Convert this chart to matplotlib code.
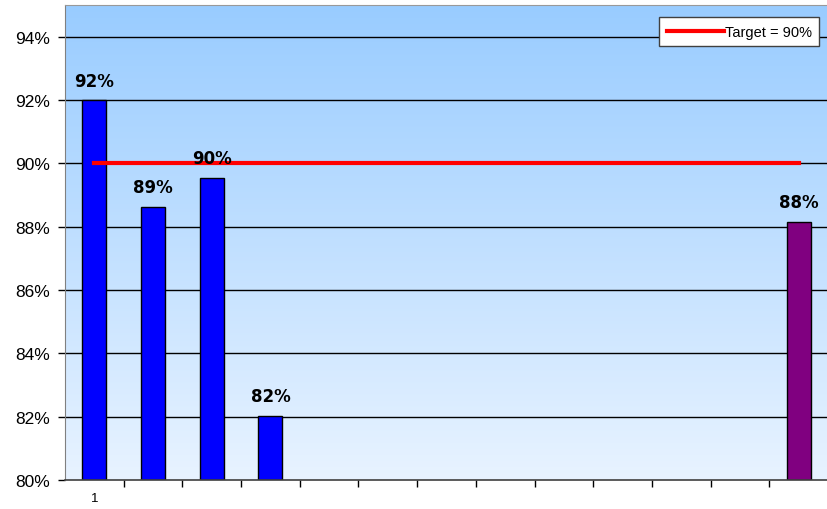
import numpy as np
import matplotlib
matplotlib.use("Agg")
import matplotlib.pyplot as plt
from matplotlib.colors import LinearSegmentedColormap

# Monthly rate values (category positions 1..13, gaps left empty)
categories = list(range(1, 14))
values = [92.0, 88.63, 89.55, 82.03, None, None, None, None, None, None, None, None, 88.16]
value_labels = ["92%", "89%", "90%", "82%", "", "", "", "", "", "", "", "", "88%"]
bar_colors = ["#0000FF"] * 12 + ["#800080"]
target = 90.0
target_label = "Target = 90%"
y_ticks = [80, 82, 84, 86, 88, 90, 92, 94]
y_tick_labels = ["80%", "82%", "84%", "86%", "88%", "90%", "92%", "94%"]
x_tick_labels = ["1"] + [""] * 12

plt.rcParams["font.family"] = ["Liberation Sans", "DejaVu Sans"]

fig = plt.figure(figsize=(8.27, 5.10), dpi=100)
ax = fig.add_axes([65 / 827, 29 / 510, 763 / 827, 475 / 510])

x = np.arange(len(categories))
ax.set_xlim(-0.5, len(categories) - 0.5)
ax.set_ylim(80, 95)

# vertical gradient background
grad = LinearSegmentedColormap.from_list("bg", ["#E8F3FF", "#99CCFF"])
ax.imshow(np.linspace(0, 1, 256).reshape(-1, 1), cmap=grad, aspect="auto",
          extent=(-0.5, len(categories) - 0.5, 80, 95), origin="lower", zorder=0)

for yt in y_ticks[1:]:
    ax.axhline(yt, color="black", lw=1.0, zorder=1)

for xi, v, lab, c in zip(x, values, value_labels, bar_colors):
    if v is None:
        continue
    ax.bar(xi, v - 80, bottom=80, width=0.41, color=c, edgecolor="black",
           linewidth=1.0, zorder=2)
    ax.text(xi, v + 0.33, lab, ha="center", va="bottom", fontsize=12,
            fontweight="bold", family="DejaVu Sans", zorder=4)

line, = ax.plot([x[0], x[-1]], [target, target], color="#FF0000", lw=3,
                zorder=3, label=target_label)

ax.set_yticks(y_ticks)
ax.set_yticklabels(y_tick_labels, fontsize=12.5)
ax.set_xticks(x)
ax.set_xticklabels(x_tick_labels, fontsize=9.5)
ax.set_xticks(np.arange(0.5, len(categories) - 0.5, 1), minor=True)
ax.tick_params(axis="x", which="major", length=0, pad=9)
ax.tick_params(axis="x", which="minor", length=5, width=1, direction="out")
ax.tick_params(axis="y", length=5, width=1, direction="out", pad=6)

ax.spines["right"].set_visible(False)
ax.spines["left"].set_color("#808080")
ax.spines["bottom"].set_color("#404040")
ax.spines["bottom"].set_linewidth(1.2)
ax.spines["top"].set_color("#999999")

leg = ax.legend(handles=[line], loc="upper right", bbox_to_anchor=(0.9886, 0.974),
                frameon=True, fancybox=False, fontsize=10.5, handlelength=3.9,
                handletextpad=0.1, borderpad=0.5, borderaxespad=0)
leg.get_frame().set_edgecolor("#404040")
leg.get_frame().set_linewidth(1.0)
leg.get_frame().set_facecolor("white")
leg.get_frame().set_alpha(1.0)

fig.savefig("out.png", dpi=100)
